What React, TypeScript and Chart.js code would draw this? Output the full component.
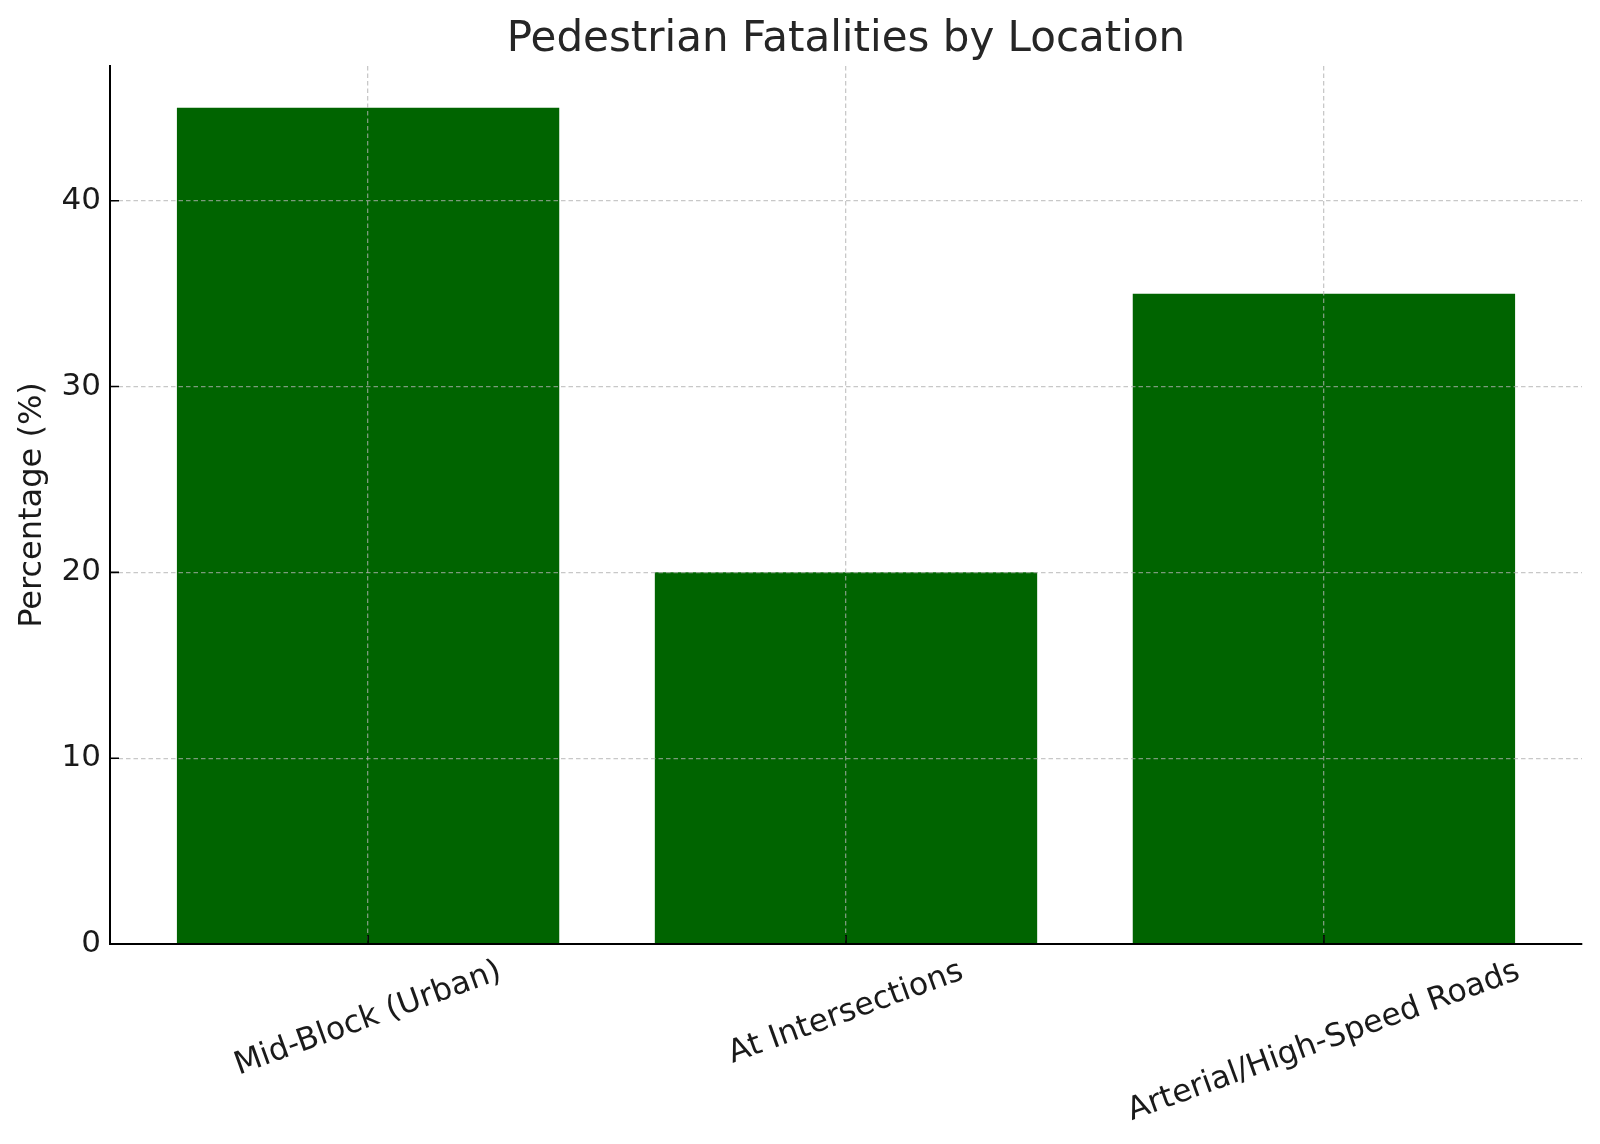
import React, { useEffect, useRef } from "react";
import { Chart, registerables } from "chart.js";

Chart.register(...registerables);

const categories = ["Mid-Block (Urban)", "At Intersections", "Arterial/High-Speed Roads"];
const percentages = [45, 20, 35];
const yTickValues = [0, 10, 20, 30, 40];
const titleText = "Pedestrian Fatalities by Location";
const yAxisTitle = "Percentage (%)";

const FONT = "'DejaVu Sans', sans-serif";

export default function App() {
  const ref = useRef<HTMLCanvasElement>(null);

  useEffect(() => {
    document.body.style.margin = "0";
    const canvas = ref.current;
    if (!canvas) return;

    const decor = {
      id: "mplDecor",
      afterDraw(chart: any) {
        const c = chart.ctx as CanvasRenderingContext2D;
        const area = chart.chartArea;
        const xs = chart.scales.x;
        const ys = chart.scales.y;
        c.save();
        // inward tick marks
        c.strokeStyle = "#000";
        c.lineWidth = 1.6;
        c.beginPath();
        categories.forEach((_, i) => {
          const px = xs.getPixelForValue(i);
          c.moveTo(px, area.bottom);
          c.lineTo(px, area.bottom - 9);
        });
        yTickValues.forEach((v) => {
          const py = ys.getPixelForValue(v);
          c.moveTo(area.left, py);
          c.lineTo(area.left + 9, py);
        });
        c.stroke();

        // title
        c.fillStyle = "#262626";
        c.font = `42px ${FONT}`;
        c.textAlign = "center";
        c.textBaseline = "alphabetic";
        c.fillText(titleText, (area.left + area.right) / 2, 51);

        // y-axis title
        c.save();
        c.translate(41, (area.top + area.bottom) / 2);
        c.rotate(-Math.PI / 2);
        c.font = `32px ${FONT}`;
        c.fillStyle = "#1a1a1a";
        c.textAlign = "center";
        c.fillText(yAxisTitle, 0, 0);
        c.restore();

        // rotated x tick labels (centered like matplotlib)
        const fs = 31.5;
        c.font = `${fs}px ${FONT}`;
        c.fillStyle = "#1a1a1a";
        c.textAlign = "center";
        const ang = (20 * Math.PI) / 180;
        categories.forEach((label, i) => {
          const w = c.measureText(label).width;
          const h = 1.164 * fs;
          const bh = w * Math.sin(ang) + h * Math.cos(ang);
          const cx = xs.getPixelForValue(i) - 1;
          const cy = area.bottom + 7 + bh / 2;
          c.save();
          c.translate(cx, cy);
          c.rotate(-ang);
          c.fillText(label, 0, 0.346 * fs);
          c.restore();
        });
        c.restore();
      },
    };

    const gridColor = "rgba(176,176,176,0.7)";

    const chart = new Chart(canvas, {
      type: "bar",
      data: {
        datasets: [
          {
            data: percentages.map((v, i) => ({ x: i, y: v })),
            backgroundColor: "#006400",
            borderWidth: 0,
            barPercentage: 0.8,
            categoryPercentage: 1.0,
          },
        ],
      },
      options: {
        responsive: false,
        animation: false,
        layout: { padding: { top: 66, right: 18, left: 0, bottom: 0 } },
        plugins: {
          legend: { display: false },
          tooltip: { enabled: false },
          title: { display: false },
        },
        scales: {
          x: {
            type: "linear",
            min: -0.54,
            max: 2.54,
            offset: false,
            afterBuildTicks: (scale: any) => {
              scale.ticks = categories.map((_, i) => ({ value: i }));
            },
            afterFit: (scale: any) => {
              scale.height = 200;
            },
            ticks: { display: false },
            grid: {
              offset: false,
              drawTicks: false,
              color: gridColor,
              lineWidth: 1.3,
              z: 1,
            },
            border: { display: true, color: "#000", width: 2, dash: [4.5, 3], z: 2 },
          },
          y: {
            type: "linear",
            min: 0,
            max: 47.25,
            afterBuildTicks: (scale: any) => {
              scale.ticks = yTickValues.map((v) => ({ value: v }));
            },
            afterFit: (scale: any) => {
              scale.width = 110;
            },
            ticks: {
              padding: 9,
              color: "#1a1a1a",
              font: { family: FONT, size: 31 },
            },
            grid: {
              drawTicks: false,
              color: (ctx: any) => (ctx.tick && ctx.tick.value === 0 ? "rgba(0,0,0,0)" : gridColor),
              lineWidth: 1.3,
              z: 1,
            },
            border: { display: true, color: "#000", width: 2, dash: [4.5, 3], z: 2 },
          },
        },
      },
      plugins: [decor],
    } as any);

    return () => chart.destroy();
  }, []);

  return <canvas ref={ref} width={1600} height={1144} style={{ display: "block" }} />;
}
